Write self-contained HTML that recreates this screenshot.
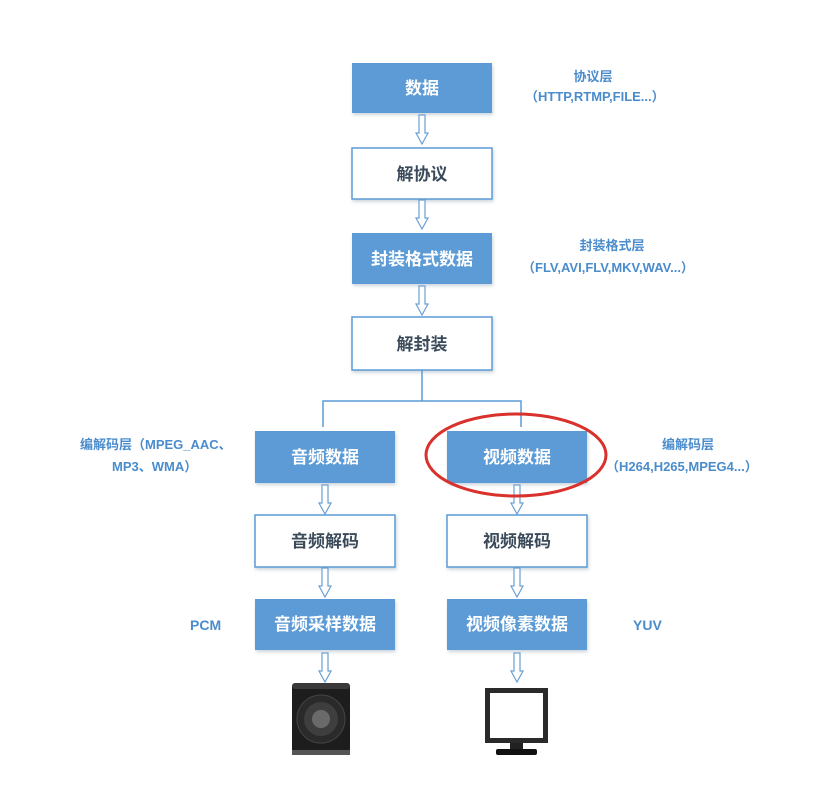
<!DOCTYPE html>
<html><head><meta charset="utf-8"><style>
html,body{margin:0;padding:0;background:#fff;}
svg text{font-family:"Liberation Sans","Noto Sans CJK SC",sans-serif;}
</style></head><body>
<svg width="817" height="784" viewBox="0 0 817 784" xmlns="http://www.w3.org/2000/svg">
<defs>
<filter id="sh" x="-10%" y="-10%" width="130%" height="140%"><feDropShadow dx="1" dy="2" stdDeviation="1.5" flood-color="#9ab" flood-opacity="0.5"/></filter>
<g id="arr"><path d="M-3 0 V18 H-6 L0 29 L6 18 H3 V0 Z" fill="#fff" stroke="#6a9fd4" stroke-width="1.2"/></g>
</defs>
<g filter="url(#sh)">
<rect x="352" y="63" width="140" height="50" fill="#5b9bd5"/>
<rect x="352" y="148" width="140" height="51" fill="#fff" stroke="#5b9bd5" stroke-width="1.5"/>
<rect x="352" y="233" width="140" height="51" fill="#5b9bd5"/>
<rect x="352" y="317" width="140" height="53" fill="#fff" stroke="#5b9bd5" stroke-width="1.5"/>
<rect x="255" y="431" width="140" height="52" fill="#5b9bd5"/>
<rect x="255" y="515" width="140" height="52" fill="#fff" stroke="#5b9bd5" stroke-width="1.5"/>
<rect x="255" y="599" width="140" height="51" fill="#5b9bd5"/>
<rect x="447" y="431" width="140" height="52" fill="#5b9bd5"/>
<rect x="447" y="515" width="140" height="52" fill="#fff" stroke="#5b9bd5" stroke-width="1.5"/>
<rect x="447" y="599" width="140" height="51" fill="#5b9bd5"/>
</g>
<g font-size="17" text-anchor="middle" font-weight="bold">
<text x="422" y="94" fill="#fff">数据</text>
<text x="422" y="180" fill="#3a4a5a">解协议</text>
<text x="422" y="265" fill="#fff">封装格式数据</text>
<text x="422" y="350" fill="#3a4a5a">解封装</text>
<text x="325" y="463" fill="#fff">音频数据</text>
<text x="325" y="547" fill="#3a4a5a">音频解码</text>
<text x="325" y="630" fill="#fff">音频采样数据</text>
<text x="517" y="463" fill="#fff">视频数据</text>
<text x="517" y="547" fill="#3a4a5a">视频解码</text>
<text x="517" y="630" fill="#fff">视频像素数据</text>
</g>
<use href="#arr" x="422" y="115"/>
<use href="#arr" x="422" y="200"/>
<use href="#arr" x="422" y="286"/>
<use href="#arr" x="325" y="485"/>
<use href="#arr" x="325" y="568"/>
<use href="#arr" x="325" y="653"/>
<use href="#arr" x="517" y="485"/>
<use href="#arr" x="517" y="568"/>
<use href="#arr" x="517" y="653"/>
<path d="M422 370 V401 M323 427 V401 H521 V427" fill="none" stroke="#5b9bd5" stroke-width="1.5"/>
<ellipse cx="516" cy="455" rx="90" ry="41" fill="none" stroke="#d9312b" stroke-width="3"/>
<g fill="#4a8ccc" font-size="13" font-weight="bold">
<text x="593" y="81" text-anchor="middle">协议层</text>
<text x="525" y="101">（HTTP,RTMP,FILE...）</text>
<text x="612" y="250" text-anchor="middle">封装格式层</text>
<text x="522" y="272">（FLV,AVI,FLV,MKV,WAV...）</text>
<text x="80" y="449">编解码层（MPEG_AAC、</text>
<text x="112" y="471">MP3、WMA）</text>
<text x="688" y="449" text-anchor="middle">编解码层</text>
<text x="606" y="471">（H264,H265,MPEG4...）</text>
<text x="190" y="630" font-size="14">PCM</text>
<text x="633" y="630" font-size="14">YUV</text>
</g>
<!-- speaker -->
<rect x="292" y="683" width="58" height="72" rx="4" fill="#1d1d1d"/>
<rect x="292" y="683" width="58" height="6" rx="3" fill="#3a3a3a"/>
<circle cx="321" cy="719" r="24" fill="#2a2a2a" stroke="#444"/>
<circle cx="321" cy="719" r="17" fill="#3e3e3e"/>
<circle cx="321" cy="719" r="9" fill="#6a6a6a"/>
<rect x="292" y="750" width="58" height="5" fill="#555"/>
<!-- monitor -->
<rect x="485" y="688" width="63" height="55" fill="#2a2a2a"/>
<rect x="490" y="693" width="53" height="45" fill="#fff"/>
<rect x="510" y="743" width="13" height="6" fill="#222"/>
<rect x="496" y="749" width="41" height="6" rx="2" fill="#111"/>
</svg>
</body></html>
